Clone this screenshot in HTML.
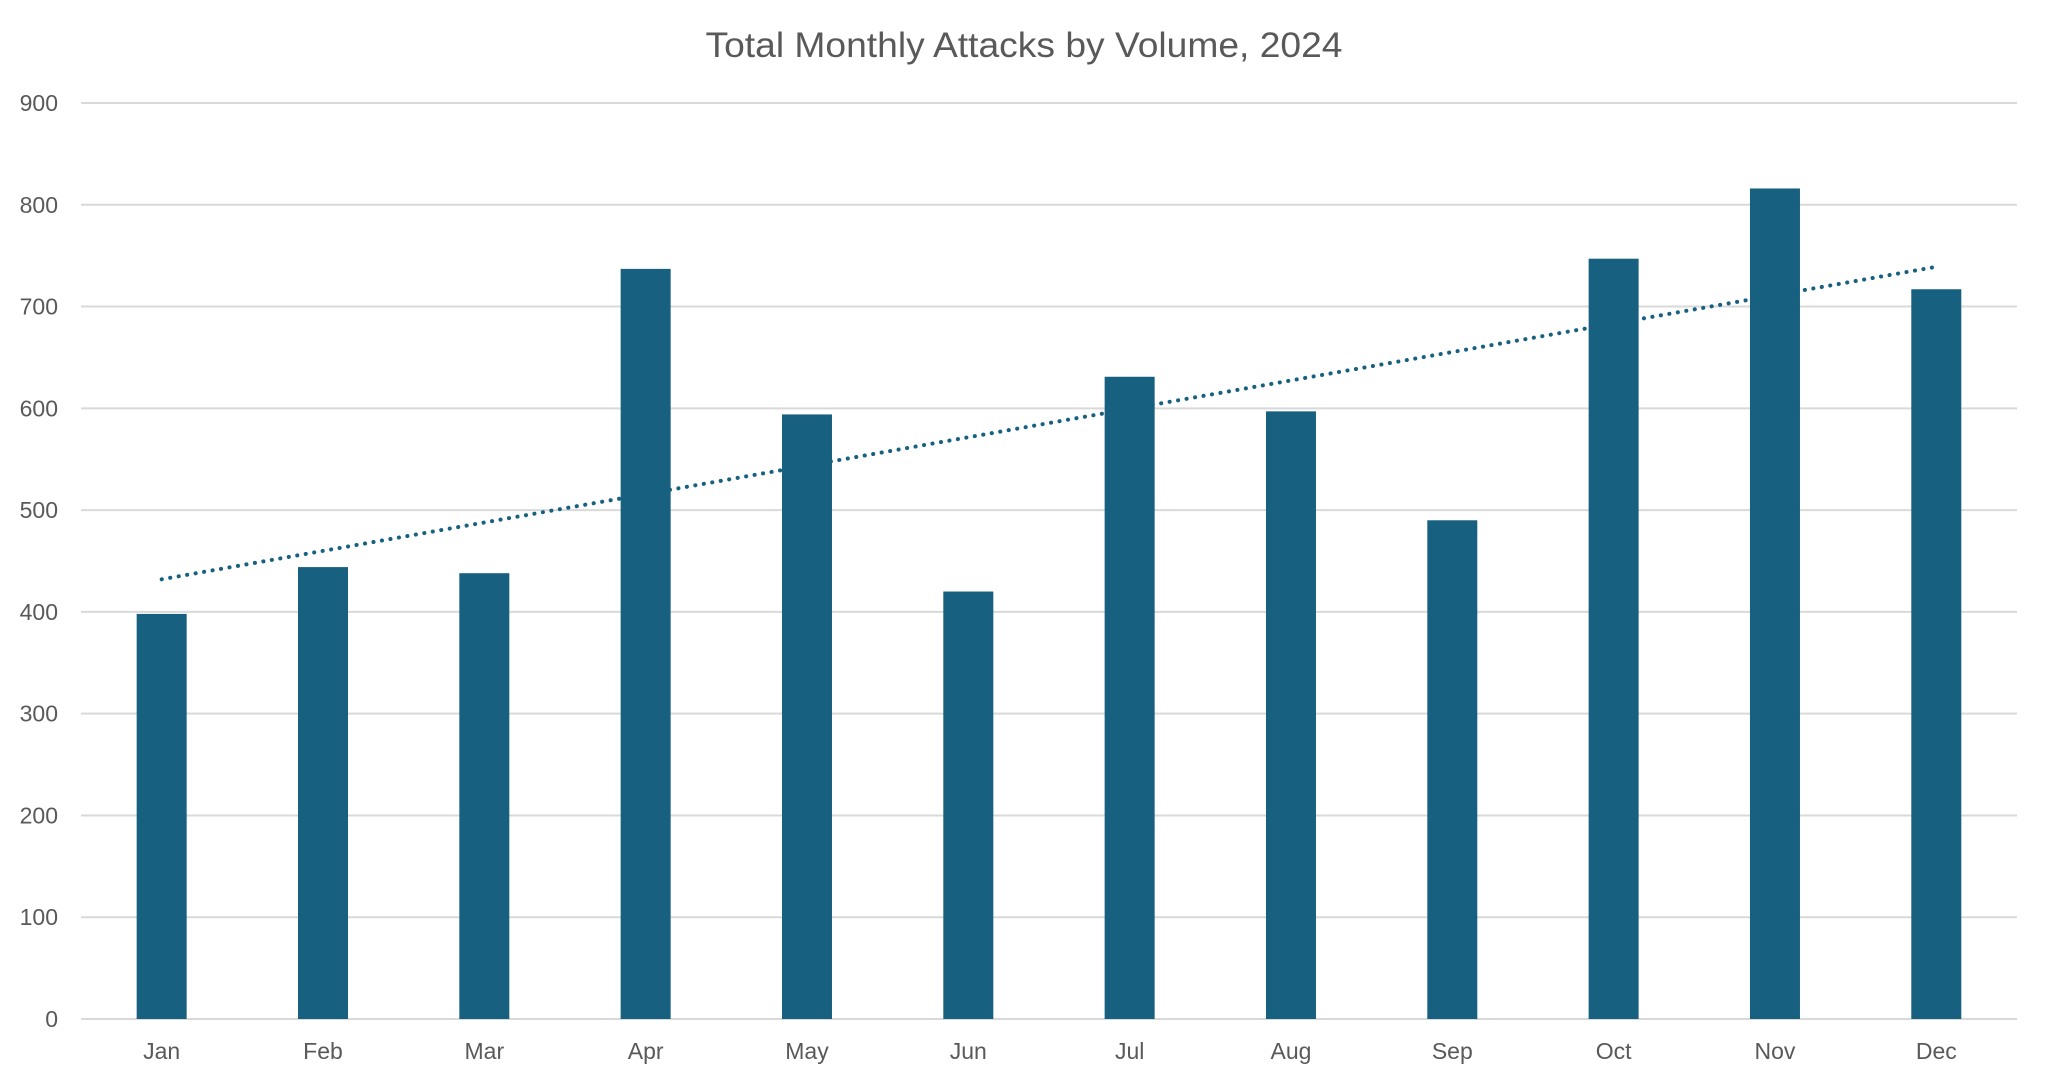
<!DOCTYPE html>
<html><head><meta charset="utf-8"><style>html,body{margin:0;padding:0;background:#fff}</style></head>
<body>
<svg width="2048" height="1084" viewBox="0 0 2048 1084" xmlns="http://www.w3.org/2000/svg" font-family="Liberation Sans, sans-serif">
<rect width="2048" height="1084" fill="#fff"/>
<text x="1024" y="57" text-anchor="middle" font-size="35" fill="#595959" textLength="637" lengthAdjust="spacingAndGlyphs">Total Monthly Attacks by Volume, 2024</text>
<g stroke="#d9d9d9" stroke-width="2" id="grid"></g>
<g font-size="23" fill="#595959" text-anchor="end" id="yl"></g>
<g fill="#17607f" id="bars"></g>
<g font-size="23" fill="#595959" text-anchor="middle" id="xl"></g>
<line x1="161.7" y1="579.3" x2="1936.3" y2="266.8" stroke="#17607f" stroke-width="4" stroke-dasharray="0.1 8.5" stroke-linecap="round"/>
<script>
var ns="http://www.w3.org/2000/svg",k=1.0178,z=1019;
var g=document.getElementById("grid"),yl=document.getElementById("yl");
for(var j=0;j<=9;j++){var y=z-j*100*k;
var l=document.createElementNS(ns,"line");l.setAttribute("x1",81);l.setAttribute("x2",2017);l.setAttribute("y1",y);l.setAttribute("y2",y);g.appendChild(l);
var t=document.createElementNS(ns,"text");t.setAttribute("x",58);t.setAttribute("y",y+8);t.textContent=j*100;yl.appendChild(t);}
var v=[398,444,438,737,594,420,631,597,490,747,816,717],m=["Jan","Feb","Mar","Apr","May","Jun","Jul","Aug","Sep","Oct","Nov","Dec"];
var b=document.getElementById("bars"),x=document.getElementById("xl");
for(var i=0;i<12;i++){var c=81+161.33*(i+0.5);var h=v[i]*k;
var r=document.createElementNS(ns,"rect");r.setAttribute("x",c-25);r.setAttribute("width",50);r.setAttribute("y",z-h);r.setAttribute("height",h);b.appendChild(r);
var t=document.createElementNS(ns,"text");t.setAttribute("x",c);t.setAttribute("y",1059);t.textContent=m[i];x.appendChild(t);}
</script>
</svg>
</body></html>
